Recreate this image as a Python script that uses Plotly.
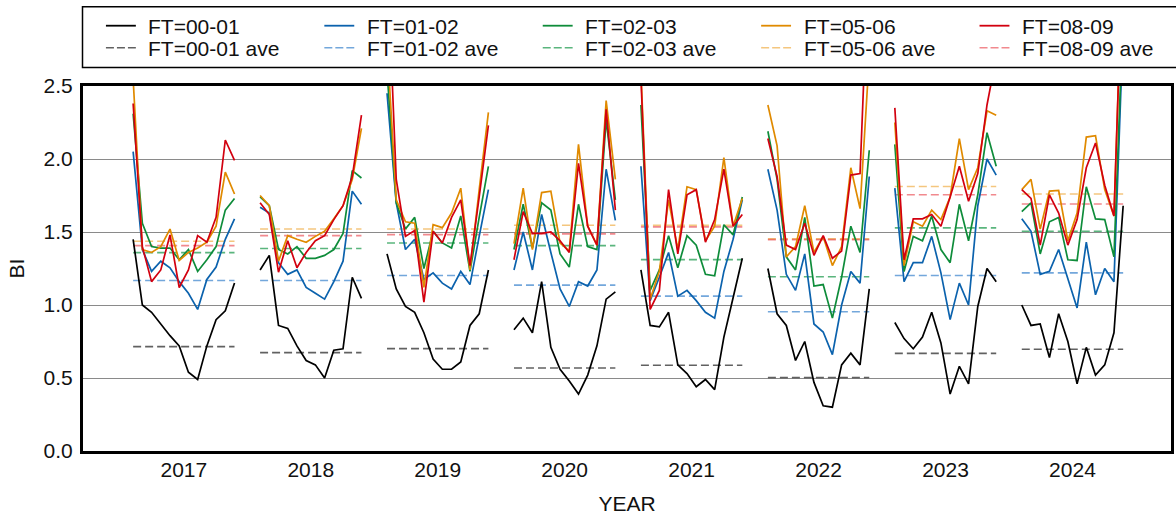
import plotly.graph_objects as go

# ---------------- data ----------------
years = [2017, 2018, 2019, 2020, 2021, 2022, 2023, 2024]
series_names = ["FT=00-01", "FT=01-02", "FT=02-03", "FT=05-06", "FT=08-09"]

ft_00_01 = [
    [1.45, 1.00, 0.95, 0.87, 0.79, 0.72, 0.54, 0.49, 0.72, 0.90, 0.96, 1.15],
    [1.24, 1.34, 0.86, 0.84, 0.72, 0.62, 0.59, 0.50, 0.69, 0.70, 1.19, 1.045],
    [1.35, 1.11, 0.99, 0.95, 0.81, 0.63, 0.56, 0.56, 0.61, 0.86, 0.94, 1.24],
    [0.83, 0.91, 0.81, 1.16, 0.71, 0.56, 0.48, 0.39, 0.52, 0.72, 1.04, 1.09],
    [1.24, 0.86, 0.85, 0.95, 0.59, 0.53, 0.44, 0.49, 0.42, 0.78, 1.05, 1.32],
    [1.25, 0.94, 0.86, 0.62, 0.75, 0.47, 0.31, 0.30, 0.59, 0.67, 0.59, 1.11],
    [0.88, 0.77, 0.70, 0.78, 0.95, 0.74, 0.39, 0.58, 0.46, 0.99, 1.25, 1.16],
    [1.00, 0.86, 0.87, 0.64, 0.94, 0.75, 0.46, 0.71, 0.52, 0.59, 0.81, 1.68],
]
ft_01_02 = [
    [2.05, 1.38, 1.23, 1.30, 1.255, 1.16, 1.08, 0.97, 1.175, 1.26, 1.45, 1.59],
    [1.67, 1.63, 1.29, 1.21, 1.24, 1.12, 1.08, 1.04, 1.16, 1.30, 1.78, 1.69],
    [2.45, 1.70, 1.38, 1.45, 1.175, 1.22, 1.15, 1.11, 1.23, 1.14, 1.47, 1.79],
    [1.24, 1.50, 1.24, 1.62, 1.36, 1.11, 0.99, 1.16, 1.13, 1.24, 1.93, 1.58],
    [1.95, 1.03, 1.19, 1.36, 1.06, 1.10, 1.03, 0.95, 0.91, 1.23, 1.45, 1.72],
    [1.93, 1.65, 1.21, 1.10, 1.35, 0.87, 0.815, 0.66, 1.00, 1.23, 1.15, 1.88],
    [1.80, 1.16, 1.29, 1.29, 1.47, 1.22, 0.90, 1.15, 1.00, 1.68, 2.00, 1.89],
    [1.59, 1.505, 1.21, 1.23, 1.38, 1.175, 0.98, 1.43, 1.07, 1.25, 1.16, 2.9],
]
ft_02_03 = [
    [2.31, 1.56, 1.40, 1.39, 1.39, 1.31, 1.38, 1.23, 1.31, 1.40, 1.65, 1.73],
    [1.74, 1.68, 1.38, 1.35, 1.40, 1.32, 1.32, 1.34, 1.38, 1.49, 1.92, 1.87],
    [2.6, 1.70, 1.52, 1.60, 1.25, 1.505, 1.425, 1.39, 1.61, 1.23, 1.60, 1.95],
    [1.38, 1.69, 1.39, 1.70, 1.65, 1.35, 1.26, 1.69, 1.40, 1.38, 2.27, 1.72],
    [2.37, 1.10, 1.24, 1.475, 1.255, 1.475, 1.41, 1.21, 1.20, 1.55, 1.48, 1.74],
    [2.19, 1.86, 1.33, 1.24, 1.60, 1.13, 1.14, 0.91, 1.19, 1.54, 1.36, 2.06],
    [2.10, 1.23, 1.47, 1.44, 1.61, 1.38, 1.29, 1.69, 1.44, 1.755, 2.18, 1.95],
    [1.64, 1.70, 1.35, 1.57, 1.60, 1.31, 1.305, 1.81, 1.59, 1.585, 1.33, 3.0],
]
ft_05_06 = [
    [2.55, 1.38, 1.36, 1.40, 1.52, 1.305, 1.36, 1.39, 1.43, 1.54, 1.91, 1.76],
    [1.75, 1.68, 1.30, 1.475, 1.45, 1.43, 1.47, 1.505, 1.59, 1.68, 1.86, 2.21],
    [2.8, 1.72, 1.57, 1.56, 1.12, 1.55, 1.53, 1.63, 1.80, 1.24, 1.79, 2.32],
    [1.42, 1.80, 1.38, 1.77, 1.78, 1.425, 1.37, 2.10, 1.54, 1.41, 2.40, 1.86],
    [2.6, 1.04, 1.23, 1.72, 1.38, 1.81, 1.79, 1.44, 1.54, 2.01, 1.54, 1.73],
    [2.37, 2.09, 1.33, 1.40, 1.68, 1.36, 1.47, 1.27, 1.40, 1.94, 1.66, 2.7],
    [2.25, 1.27, 1.57, 1.54, 1.65, 1.585, 1.74, 2.14, 1.79, 1.94, 2.33, 2.30],
    [1.79, 1.86, 1.52, 1.78, 1.785, 1.44, 1.63, 2.15, 2.16, 1.79, 1.61, 3.5],
]
ft_08_09 = [
    [2.38, 1.40, 1.16, 1.24, 1.48, 1.12, 1.24, 1.475, 1.43, 1.60, 2.13, 1.99],
    [1.70, 1.62, 1.225, 1.44, 1.255, 1.36, 1.44, 1.475, 1.585, 1.68, 1.88, 2.30],
    [3.4, 1.86, 1.47, 1.51, 1.02, 1.505, 1.425, 1.60, 1.72, 1.27, 1.74, 2.23],
    [1.31, 1.64, 1.49, 1.49, 1.50, 1.44, 1.36, 1.97, 1.54, 1.41, 2.34, 1.65],
    [2.56, 0.97, 1.10, 1.79, 1.35, 1.755, 1.79, 1.43, 1.585, 1.93, 1.54, 1.62],
    [2.14, 1.88, 1.41, 1.38, 1.56, 1.34, 1.475, 1.32, 1.37, 1.89, 1.90, 3.5],
    [2.35, 1.31, 1.59, 1.59, 1.62, 1.54, 1.74, 1.95, 1.71, 1.90, 2.37, 2.7],
    [1.79, 1.73, 1.41, 1.755, 1.63, 1.41, 1.585, 1.94, 2.11, 1.82, 1.61, 3.5],
]

ave_00_01 = [0.715, 0.674, 0.701, 0.569, 0.587, 0.503, 0.669, 0.697]
ave_01_02 = [1.168, 1.168, 1.202, 1.136, 1.061, 0.954, 1.202, 1.220]
ave_02_03 = [1.359, 1.387, 1.425, 1.407, 1.311, 1.193, 1.528, 1.505]
ave_05_06 = [1.437, 1.521, 1.521, 1.546, 1.546, 1.453, 1.812, 1.760]
ave_08_09 = [1.407, 1.475, 1.482, 1.487, 1.535, 1.448, 1.755, 1.692]

y_ticks = [0.0, 0.5, 1.0, 1.5, 2.0, 2.5]

# ---------------- styles ----------------
line_colors = ["#000000", "#0b62ad", "#0e8c3a", "#e08a00", "#d2000f"]
ave_colors = ["rgba(0,0,0,0.62)", "rgba(40,120,200,0.65)", "rgba(20,150,70,0.7)",
              "rgba(236,160,40,0.6)", "rgba(230,40,50,0.55)"]
series_vals = [ft_00_01, ft_01_02, ft_02_03, ft_05_06, ft_08_09]
series_aves = [ave_00_01, ave_01_02, ave_02_03, ave_05_06, ave_08_09]

N = 12
STEP = 0.0726  # spacing of samples within one year block (axis units)
offsets = [(m - (N - 1) / 2) * STEP for m in range(N)]

FONT = "Liberation Sans, Arial, Helvetica, sans-serif"
FS = 21

fig = go.Figure()

# averages (dashed)
for name, aves, col in zip(series_names, series_aves, ave_colors):
    xs, ys = [], []
    for yr, a in zip(years, aves):
        xs += [yr + offsets[0], yr + offsets[-1], None]
        ys += [a, a, None]
    fig.add_trace(go.Scatter(x=xs, y=ys, mode="lines", name=name + " ave",
                             line=dict(color=col, width=1.6, dash="8px,4px"),
                             showlegend=False, hoverinfo="skip"))

# main lines
for name, vals, col in zip(series_names, series_vals, line_colors):
    xs, ys = [], []
    for yr, row in zip(years, vals):
        xs += [yr + o for o in offsets] + [None]
        ys += list(row) + [None]
    fig.add_trace(go.Scatter(x=xs, y=ys, mode="lines", name=name,
                             line=dict(color=col, width=1.7),
                             showlegend=False, connectgaps=False))

# ---------------- layout geometry ----------------
W, H = 1176, 515
ML, MR, MT, MB = 83, 2, 86, 64
PW, PH = W - ML - MR, H - MT - MB


def px(xp):
    return (xp - ML) / PW


def py(yp):
    return (H - MB - yp) / PH


shapes = []
annotations = []
# legend frame
shapes.append(dict(type="rect", xref="paper", yref="paper",
                   x0=px(82.5), x1=px(1180), y0=py(67.5), y1=py(6.7),
                   line=dict(color="black", width=1.5), fillcolor="white", layer="above"))
for i, name in enumerate(series_names):
    x0 = 106 + 219 * i
    shapes.append(dict(type="line", xref="paper", yref="paper",
                       x0=px(x0), x1=px(x0 + 30), y0=py(25.7), y1=py(25.7),
                       line=dict(color=line_colors[i], width=1.8)))
    shapes.append(dict(type="line", xref="paper", yref="paper",
                       x0=px(x0), x1=px(x0 + 30), y0=py(47.7), y1=py(47.7),
                       line=dict(color=ave_colors[i], width=1.6, dash="8px,3px")))
    annotations.append(dict(xref="paper", yref="paper", x=px(x0 + 40.5), y=py(26.5),
                            text=name, showarrow=False, xanchor="left", yanchor="middle",
                            font=dict(family=FONT, size=FS, color="#111")))
    annotations.append(dict(xref="paper", yref="paper", x=px(x0 + 40.5), y=py(48.3),
                            text=name + " ave", showarrow=False, xanchor="left", yanchor="middle",
                            font=dict(family=FONT, size=FS, color="#111")))

left_px, right_px = ML, W - MR
center_2017, year_px = 184.1, 127.3
x_lo = years[0] - (center_2017 - left_px) / year_px
x_hi = years[0] + (right_px - center_2017) / year_px

fig.update_layout(
    width=W, height=H,
    margin=dict(l=ML, r=MR, t=MT, b=MB, pad=0),
    paper_bgcolor="white", plot_bgcolor="white",
    font=dict(family=FONT, size=FS, color="#111"),
    showlegend=False,
    shapes=shapes, annotations=annotations,
    xaxis=dict(range=[x_lo, x_hi], tickvals=years, ticktext=[str(y) for y in years],
               showgrid=False, zeroline=False, ticks="", showline=True, linecolor="black",
               linewidth=3, mirror=True, ticklabelstandoff=-2,
               title=dict(text="YEAR", standoff=17, font=dict(size=FS))),
    yaxis=dict(range=[0, 2.5], tickvals=y_ticks, ticktext=[f"{v:.1f}" for v in y_ticks],
               showgrid=True, gridcolor="#8a8a8a", gridwidth=1, zeroline=False, ticks="",
               showline=True, linecolor="black", linewidth=3, mirror=True,
               ticklabelstandoff=3,
               title=dict(text="BI", standoff=14, font=dict(size=FS))),
)

fig.write_html("out.html",
               config={"displayModeBar": False},
               post_script="document.body.style.margin='0';document.body.style.padding='0';"
                           "document.documentElement.style.overflow='hidden';")
